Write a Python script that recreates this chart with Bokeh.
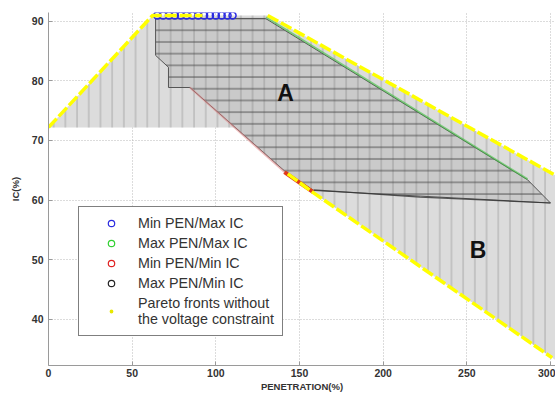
import math
from bokeh.plotting import figure
from bokeh.models import Range1d, Legend, LegendItem, ColumnDataSource, Label, FixedTicker
from bokeh.embed import file_html
from bokeh.resources import INLINE

nan = math.nan

# ---------------- data ----------------
x_ticks = [0, 50, 100, 150, 200, 250, 300]
y_ticks = [40, 50, 60, 70, 80, 90]

# feasible region B (light gray, vertical lines)
regionB_x = [0, 62.2, 131, 302, 303, 303, 301, 158.4, 141, 111, 0]
regionB_y = [72.2, 91.0, 91.0, 64.3, 64.1, 33.1, 33.5, 61.2, 64.7, 72.2, 72.2]

# feasible region A (darker gray, horizontal lines)
regionA_x = [64, 129.7, 286.3, 300, 158.4, 141, 84.5, 71.7, 71.7, 64]
regionA_y = [90.5, 90.5, 63.4, 59.5, 61.6, 64.9, 78.9, 78.9, 82.3, 84.3]

# Pareto fronts without the voltage constraint
pareto_x = [0, 62.2, 92, nan, 131, 302, nan, 143, 158.4, 301]
pareto_y = [72.2, 91.0, 91.0, nan, 91.0, 64.3, nan, 64.4, 61.2, 33.5]

# Min PEN / Max IC
minpen_maxic_x = [65, 68.5, 72, 75.5, 79, 82.5, 86, 89.5, 93, 96.5, 100, 103.5, 107, 110]
minpen_maxic_y = [91.0, 91.0, 91.0, 91.0, 91.0, 91.0, 91.0, 91.0, 91.0, 91.0, 91.0, 91.0, 91.0, 91.0]

# Max PEN / Max IC
maxpen_maxic_x = [130, 286.3]
maxpen_maxic_y = [90.7, 63.5]

# Min PEN / Min IC
minpen_minic_x = [84.5, 141, 158.4]
minpen_minic_y = [78.9, 64.7, 61.3]

# Max PEN / Min IC
maxpen_minic_x = [158.4, 222, 300]
maxpen_minic_y = [61.7, 60.5, 59.5]

region_labels = ["A", "B"]
region_label_x = [141.7, 256.7]
region_label_y = [77.9, 51.6]

legend_labels = ["Min PEN/Max IC", "Max PEN/Max IC", "Min PEN/Min IC",
                 "Max PEN/Min IC", "Pareto fronts without\nthe voltage constraint"]

# ---------------- figure ----------------
p = figure(width=555, height=394, output_backend="svg", toolbar_location=None,
           x_range=Range1d(0, 303), y_range=Range1d(32.2, 91.5),
           min_border_left=48, min_border_right=0, min_border_top=12, min_border_bottom=28)
p.outline_line_color = None
p.background_fill_color = "white"

# grid
p.xaxis.ticker = FixedTicker(ticks=x_ticks)
p.yaxis.ticker = FixedTicker(ticks=y_ticks)
p.grid.grid_line_color = "#b8b8b8"
p.grid.grid_line_dash = "1 2"
p.grid.grid_line_width = 1

for ax in (p.xaxis[0], p.yaxis[0]):
    ax.axis_line_color = "#9a9a9a"
    ax.major_tick_line_color = "#9a9a9a"
    ax.major_tick_in = 4
    ax.major_tick_out = 0
    ax.minor_tick_line_color = None
    ax.major_label_text_font = "Liberation Sans"
    ax.major_label_text_font_style = "bold"
    ax.major_label_text_font_size = "10.5px"
    ax.major_label_text_color = "#333333"
    ax.axis_label_text_font = "Liberation Sans"
    ax.axis_label_text_font_style = "bold"
    ax.axis_label_text_font_size = "9.5px"
    ax.axis_label_text_color = "#333333"

p.xaxis.axis_label = "PENETRATION(%)"
p.yaxis.axis_label = "IC(%)"
p.xaxis.major_label_standoff = 3
p.xaxis.axis_label_standoff = 1
p.yaxis.major_label_standoff = 5
p.yaxis.axis_label_standoff = 8

# region B
p.patch(regionB_x, regionB_y, fill_color="#dcdcdc", fill_alpha=1.0, line_color=None,
        hatch_pattern="vertical_line", hatch_scale=11.7, hatch_weight=1,
        hatch_color="#9c9c9c", hatch_alpha=0.8)
# region A
p.patch(regionA_x, regionA_y, fill_color="black", fill_alpha=0.08,
        line_color="#555555", line_width=1,
        hatch_pattern="horizontal_line", hatch_scale=11.7, hatch_weight=1,
        hatch_color="#4a4a4a", hatch_alpha=0.9)

# series
p.line(minpen_minic_x[:2], minpen_minic_y[:2], line_color="#e08080", line_width=2, line_alpha=0.5)
p.line(minpen_minic_x[1:], minpen_minic_y[1:], line_color="#e03a1a", line_width=4)
p.line(maxpen_maxic_x, maxpen_maxic_y, line_color="#40c040", line_width=2, line_alpha=0.6)
p.line(maxpen_minic_x, maxpen_minic_y, line_color="#333333", line_width=1.2, line_alpha=0.8)
p.scatter(minpen_maxic_x, minpen_maxic_y, marker="circle", size=7, fill_color=None,
          line_color="#2a2ae0", line_width=1.5)
p.line(pareto_x, pareto_y, line_color="#ffff00", line_width=3.5, line_dash="12 3")

# legend renderers (a single undefined point: drawn only as the legend glyph)
def leg_renderer(fill, line, lw):
    src = ColumnDataSource(data=dict(x=[nan], y=[nan]))
    return p.scatter("x", "y", source=src, marker="circle", size=9,
                     fill_color=fill, line_color=line, line_width=lw)

r_blue = leg_renderer(None, "#2a2ae0", 1.2)
r_green = leg_renderer(None, "#30d030", 1.2)
r_red = leg_renderer(None, "#e02020", 1.2)
r_black = leg_renderer(None, "#222222", 1.2)
r_yel = leg_renderer("#e8e800", "white", 2.6)

items = [LegendItem(label=legend_labels[0], renderers=[r_blue]),
         LegendItem(label=legend_labels[1], renderers=[r_green]),
         LegendItem(label=legend_labels[2], renderers=[r_red]),
         LegendItem(label=legend_labels[3], renderers=[r_black]),
         LegendItem(label=legend_labels[4], renderers=[r_yel])]
legend = Legend(items=items, location=(30, 29), margin=0, padding=8,
                glyph_width=48, glyph_height=16, label_height=16, label_standoff=3,
                spacing=4, border_line_color="black", border_line_width=1,
                background_fill_color="white", background_fill_alpha=1,
                label_text_font="Liberation Sans", label_text_font_size="14.3px",
                label_text_color="#333333")
p.add_layout(legend, "center")

for t, lx, ly in zip(region_labels, region_label_x, region_label_y):
    p.add_layout(Label(x=lx, y=ly, text=t, text_font="Liberation Sans", text_font_style="bold",
                       text_font_size="23px", text_align="center", text_baseline="middle",
                       text_color="#111111"))

open("out.html", "w").write(file_html(p, INLINE))
